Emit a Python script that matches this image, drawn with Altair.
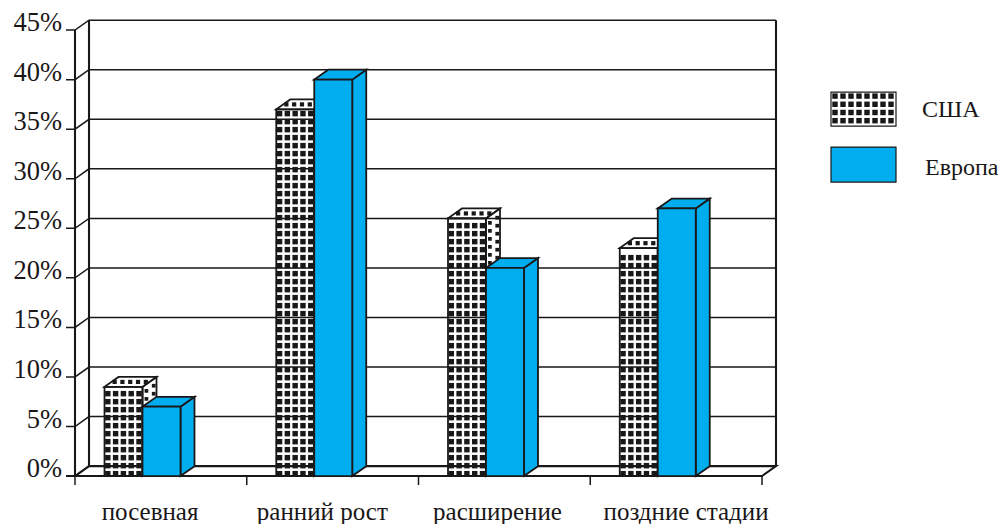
import altair as alt
import pandas as pd

categories = ["посевная", "ранний рост", "расширение", "поздние стадии"]
usa = [9, 37, 26, 23]
europe = [7, 40, 21, 27]
levels = [0, 5, 10, 15, 20, 25, 30, 35, 40, 45]
tick_labels = ["0%", "5%", "10%", "15%", "20%", "25%", "30%", "35%", "40%", "45%"]
label_pos = [0.437, 1.44, 2.46, 3.558]
legend_names = ["США", "Европа"]

BLUE = "#00AEEF"
INK = "#1a1718"
# The page shrinks the drawing to its 990px body, so page pixels are mapped back.
VIEW_W, VIEW_H = 998, 518
S = VIEW_W / 990


def p(px):
    return (px - 8) * S


def py(px):
    return (px - 10) * S


UNIT = 171.75
PCT = 9.91
DX = 14 / UNIT
DY = 1.0
BW = 38 / UNIT
OFF = 29.5 / UNIT

XS = alt.Scale(domain=[0, 4], range=[p(75), p(762)])
YS = alt.Scale(domain=[0, 45], range=[py(476), py(30)])


def X(f="x"):
    return alt.X(f"{f}:Q", scale=XS, axis=None)


def Y(f="y"):
    return alt.Y(f"{f}:Q", scale=YS, axis=None)


def add_path(rows, pid, pts):
    for i, (x, y) in enumerate(pts):
        rows.append({"id": pid, "i": i, "x": x, "y": y})


def path_layer(rows, width):
    return alt.Chart(pd.DataFrame(rows)).mark_line(stroke=INK, strokeWidth=width).encode(
        x=X(), y=Y(), detail="id:N", order="i:Q"
    )


def poly_layer(polys, fill=None):
    rows = []
    for n, pts in enumerate(polys):
        add_path(rows, n, pts)
    kw = {"fill": fill} if fill else {}
    return alt.Chart(pd.DataFrame(rows)).mark_line(
        interpolate="linear-closed", stroke=INK, strokeWidth=1.8, **kw
    ).encode(x=X(), y=Y(), detail="id:N", order="i:Q")


def bar_polys(x0, v):
    x1 = x0 + BW
    front = [(x0, 0), (x1, 0), (x1, v), (x0, v)]
    top = [(x0, v), (x1, v), (x1 + DX, v + DY), (x0 + DX, v + DY)]
    side = [(x1, 0), (x1 + DX, DY), (x1 + DX, v + DY), (x1, v)]
    return [side, top, front]


grid, heavy = [], []
for n, lv in enumerate(levels):
    add_path(grid, f"g{n}", [(-9 / UNIT, lv), (0, lv), (DX, lv + DY), (4 + DX, lv + DY)])
add_path(heavy, "back", [(DX, DY), (DX, 46)])
add_path(heavy, "right", [(4 + DX, DY), (4 + DX, 46)])
add_path(heavy, "front", [(0, 0), (0, 45)])
add_path(heavy, "floor", [(-9 / UNIT, 0), (4, 0), (4 + DX, DY), (DX, DY), (0, 0)])
for k in range(5):
    add_path(grid, f"t{k}", [(k, 0), (k, -0.9)])

usa_polys, eur_polys = [], []
dots_front, dots_top, dots_side = [], [], []
STEP_X = 7.8 / UNIT
STEP_Y = 8.0 / PCT
for k, (a, b) in enumerate(zip(usa, europe)):
    x0 = k + OFF
    usa_polys += bar_polys(x0, a)
    eur_polys += bar_polys(x0 + BW, b)
    r = 0
    while (r + 0.3) * STEP_Y < a - 0.3:
        yy = (r + 0.3) * STEP_Y
        for c in range(5):
            dots_front.append({"x": x0 + (c + 0.38) * STEP_X + 0.002, "y": yy})
        for f in (0.28, 0.8):
            dots_side.append({"x": x0 + BW + f * DX, "y": yy + f * DY})
        r += 1
    for c in range(5):
        dots_top.append({"x": x0 + (c + 0.4) * STEP_X + 0.5 * DX, "y": a + 0.5 * DY})

layers = [path_layer(grid, 1.5), path_layer(heavy, 2.1), poly_layer(usa_polys)]
layers.append(alt.Chart(pd.DataFrame(dots_front)).mark_square(size=30, color=INK, opacity=1).encode(x=X(), y=Y()))
layers.append(alt.Chart(pd.DataFrame(dots_top)).mark_square(size=18, color=INK, opacity=1).encode(x=X(), y=Y()))
layers.append(alt.Chart(pd.DataFrame(dots_side)).mark_square(size=14, color=INK, opacity=1).encode(x=X(), y=Y()))
layers.append(poly_layer(eur_polys, BLUE))

layers.append(
    alt.Chart(pd.DataFrame({"y": levels, "t": tick_labels}))
    .mark_text(font="Liberation Serif", fontSize=26.5 * S, align="right", baseline="middle", dy=-7, color=INK)
    .encode(x=alt.value(p(62)), y=Y(), text="t:N")
)
layers.append(
    alt.Chart(pd.DataFrame({"x": label_pos, "t": categories}))
    .mark_text(font="Liberation Serif", fontSize=25 * S, align="center", baseline="middle", color=INK)
    .encode(x=X(), y=alt.value(py(512)), text="t:N")
)


def px_x():
    return alt.X("x:Q", scale=None)


def px_y():
    return alt.Y("y:Q", scale=None)


swatch = pd.DataFrame({"x": [p(831)], "x2": [p(896)], "y": [py(92)], "y2": [py(126)]})
layers.append(
    alt.Chart(swatch).mark_rect(fill="white", stroke=INK, strokeWidth=1.2)
    .encode(x=px_x(), x2="x2:Q", y=px_y(), y2="y2:Q")
)
leg_dots = [{"x": p(835 + 8 * c), "y": py(96 + 8.2 * r)} for c in range(8) for r in range(4)]
layers.append(
    alt.Chart(pd.DataFrame(leg_dots)).mark_square(size=30, color=INK, opacity=1).encode(x=px_x(), y=px_y())
)
swatch2 = pd.DataFrame({"x": [p(831)], "x2": [p(896)], "y": [py(147)], "y2": [py(182)]})
layers.append(
    alt.Chart(swatch2).mark_rect(fill=BLUE, stroke=INK, strokeWidth=1.2)
    .encode(x=px_x(), x2="x2:Q", y=px_y(), y2="y2:Q")
)
leg_text = pd.DataFrame({"x": [p(922), p(925)], "y": [py(110), py(168)], "t": legend_names})
layers.append(
    alt.Chart(leg_text).mark_text(font="Liberation Serif", fontSize=24 * S, align="left", baseline="middle", color=INK)
    .encode(x=px_x(), y=px_y(), text="t:N")
)

chart = (
    alt.layer(*layers)
    .properties(width=VIEW_W, height=VIEW_H, padding=0, autosize=alt.AutoSizeParams(type="none"), background="white")
    .configure_view(stroke=None)
)
chart.save("out.html", embed_options={"renderer": "svg", "actions": False})
